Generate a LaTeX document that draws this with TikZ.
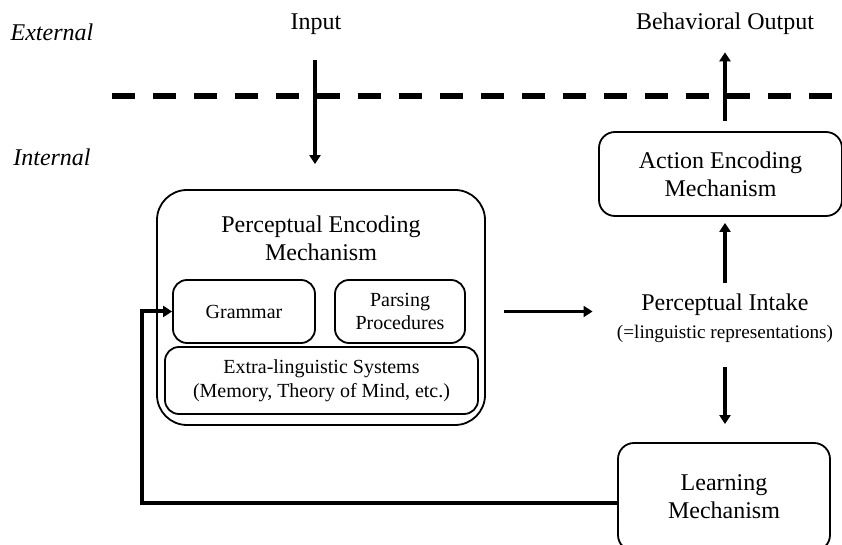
\documentclass[tikz,border=0pt]{standalone}
\usepackage{fontspec}
\setmainfont{Liberation Serif}
\usetikzlibrary{arrows.meta,positioning}

\tikzset{
  box/.style={draw, line width=0.9pt, rounded corners=7pt, align=center},
  lbl/.style={inner sep=0pt, align=center, font=\fontsize{12}{14}\selectfont},
  small/.style={font=\fontsize{10}{11.8}\selectfont},
  arr/.style={line width=1.8pt, -{Triangle[length=4.5pt,width=5.5pt]}},
}

\begin{document}
\begin{tikzpicture}[x=0.5pt, y=-0.5pt]
      \clip (0,0) rectangle (842,545);
      % Define nodes
      \node[lbl, font=\fontsize{12}{14}\itshape] (ext) at (52,32) {External};
      \node[lbl, font=\fontsize{12}{14}\itshape] (int) at (52,157) {Internal};
      \node[lbl] (inp) at (316,24) {Input};
      \node[lbl] (outp) at (725,24) {Behavioral Output};
      \node[box, rounded corners=15pt, minimum width=164pt, minimum height=117.5pt] (enc) at (321,307.5) {};
      \node[lbl] (enct) at (321,238) {Perceptual Encoding\\Mechanism};
      \node[box, small, minimum width=71pt, minimum height=31.5pt] (gram) at (244,311.5) {Grammar};
      \node[box, small, minimum width=65pt, minimum height=31.5pt] (pars) at (400,311.5) {Parsing\\Procedures};
      \node[box, small, minimum width=156.5pt, minimum height=33.5pt] (extra) at (321.5,380.5) {Extra-linguistic Systems\\(Memory, Theory of Mind, etc.)};
      \node[box, lbl, rounded corners=8pt, minimum width=121.5pt, minimum height=42pt] (act) at (720.5,174) {Action Encoding\\Mechanism};
      \node[lbl] (intake) at (725,318) {Perceptual Intake\\{\fontsize{9.6}{12}\selectfont (=linguistic representations)}};
      \node[box, lbl, rounded corners=8pt, minimum width=106pt, minimum height=54pt] (learn) at (724,497) {Learning\\Mechanism};
      % Connect nodes
      \draw[line width=3pt, dash pattern=on 11.5pt off 9pt] (112,96) -- (842,96);
      \draw[arr, shorten <=12.5pt, shorten >=12.5pt] (inp.south -| 315,0) -- (enc.north -| 315,0);
      \draw[arr, shorten <=5pt, shorten >=8.5pt] (act.north -| intake) -- (outp.south -| intake);
      \draw[arr, shorten <=5pt, shorten >=3pt] (intake.north) -- (act.south -| intake);
      \draw[arr, shorten <=12pt, shorten >=9pt] (intake.south) -- (learn.north -| intake);
      \draw[arr, shorten <=9pt, shorten >=12pt] (enc.east |- gram) -- (intake.west |- gram);
      \draw[arr, line width=2pt] ([yshift=-3pt]learn.west) -- ++(-475,0) |- (gram.west);
\end{tikzpicture}
\end{document}
